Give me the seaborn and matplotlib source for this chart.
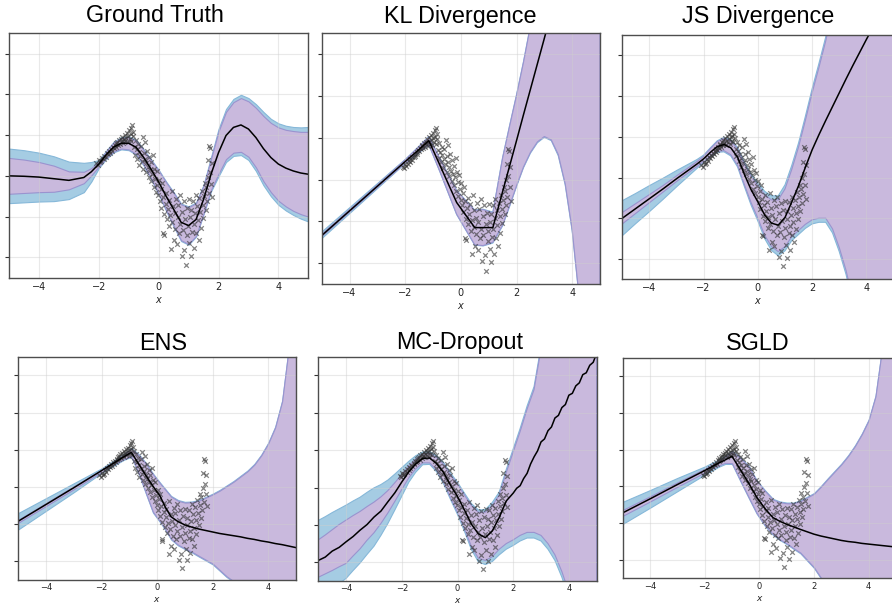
import matplotlib
matplotlib.use("Agg")
import numpy as np
import matplotlib.pyplot as plt
import seaborn as sns

# ---------------- data ----------------
xtick_vals = [-4, -2, 0, 2, 4]
xtick_labels = ["\u22124", "\u22122", "0", "2", "4"]
ytick_vals = [-2, -1, 0, 1, 2, 3]

titles = ["Ground Truth", "KL Divergence", "JS Divergence", "ENS", "MC-Dropout", "SGLD"]

# observed training points (same in every panel)
pts_x = [-2.08, -2.03, -1.99, -1.96, -1.91, -1.88, -1.83, -1.81, -1.76, -1.74, -1.69, -1.66, -1.63, -1.58,
         -1.56, -1.53, -1.49, -1.46, -1.44, -1.41, -1.38, -1.36, -1.33, -1.29, -1.27, -1.24, -1.21, -1.19,
         -1.16, -1.13, -1.11, -1.08, -1.06, -1.03, -1.01, -0.99, -0.97, -0.94, -0.93, -0.91, -0.89, -0.87, -0.85,
         -0.82, -0.79, -0.77, -0.74, -0.71, -0.69, -0.66, -0.64, -0.61, -0.59, -0.56, -0.53, -0.51, -0.49,
         -0.47, -0.45, -0.43, -0.41, -0.38, -0.36, -0.33, -0.31, -0.29, -0.26, -0.24, -0.21, -0.19, -0.17,
         -0.14, -0.11, -0.09, -0.06, -0.04, -0.01,
         0.02, 0.04, 0.07, 0.09, 0.11, 0.14, 0.16, 0.18, 0.19, 0.23, 0.25, 0.27, 0.31, 0.33, 0.36, 0.39,
         0.41, 0.43, 0.46, 0.49, 0.51, 0.53, 0.56, 0.59, 0.61, 0.63, 0.66, 0.69, 0.71, 0.73, 0.77, 0.79,
         0.81, 0.84, 0.86, 0.89, 0.91, 0.94, 0.96, 0.99,
         1.01, 1.03, 1.06, 1.08, 1.09, 1.13, 1.14, 1.17, 1.19, 1.21, 1.24, 1.26, 1.29, 1.31, 1.34, 1.36,
         1.39, 1.41, 1.44, 1.47, 1.49, 1.53, 1.54, 1.57, 1.59, 1.61, 1.64, 1.65, 1.67, 1.69, 1.71, 1.73,
         1.75, 1.77, 1.79]
pts_y = [0.31, 0.27, 0.38, 0.33, 0.36, 0.45, 0.41, 0.50, 0.47, 0.55, 0.53, 0.61, 0.57, 0.66,
         0.62, 0.71, 0.68, 0.76, 0.72, 0.80, 0.83, 0.75, 0.88, 0.79, 0.91, 0.85, 0.96, 0.81,
         0.90, 1.01, 0.86, 0.94, 1.06, 0.83, 0.99, 1.12, 0.90, 1.03, 1.18, 0.86, 1.24, 1.08, 0.97,
         0.71, 0.52, 0.88, 0.66, 0.41, 0.79, 0.58, 0.27, 0.49, 0.74, 0.36, 0.95, 0.18, 0.57,
         0.42, 0.83, 0.09, 0.31, 0.62, 0.21, -0.04, 0.46, 0.14, 0.33, -0.13, 0.05, 0.51, -0.28,
         0.18, -0.07, -0.39, 0.12, -0.22, -0.48,
         -0.09, -0.61, -0.33, -0.78, -0.18, -0.52, -1.41, -0.94, -1.44, -0.68, -0.43, -1.07, -0.82, -0.59, -1.24, -0.97,
         -1.79, -0.38, -1.13, -0.74, -1.58, -0.92, -1.31, -0.56, -1.68, -1.02, -0.71, -1.41, -0.47, -1.18, -1.96, -0.88,
         -1.33, -0.62, -1.81, -1.07, -2.18, -0.79, -1.46, -1.24,
         -0.58, -1.66, -1.02, -1.97, -0.83, -1.37, -0.61, -1.19, -1.78, -0.92, -0.47, -1.41, -0.74, -1.09, -1.58, -0.55,
         -0.88, -1.27, -0.36, -0.71, -1.03, -0.49, -0.18, -0.83, -0.28, -0.62, -0.02, 0.38, -0.41, 0.74, 0.09, 0.69,
         -0.19, 0.31, -0.52]

# Ground truth
gt_x = [-5, -4.5, -4, -3.5, -3, -2.5, -2.25, -2, -1.75, -1.5, -1.25, -1, -0.75, -0.5, -0.25, 0, 0.25, 0.5,
        0.75, 1, 1.25, 1.5, 1.75, 2, 2.25, 2.5, 2.75, 3, 3.25, 3.5, 3.75, 4, 4.25, 4.5, 4.75, 5]
gt_mean = [0.00, -0.01, -0.03, -0.07, -0.11, -0.04, 0.10, 0.29, 0.52, 0.71, 0.80, 0.80, 0.70, 0.45, 0.16, -0.15, -0.50, -0.82,
           -1.14, -1.22, -1.07, -0.58, 0.04, 0.57, 0.99, 1.19, 1.25, 1.15, 0.94, 0.67, 0.45, 0.29, 0.19, 0.12, 0.07, 0.04]
gt_purple = [0.44, 0.41, 0.37, 0.32, 0.22, 0.14, 0.09, 0.06, 0.08, 0.11, 0.13, 0.15, 0.16, 0.18, 0.22, 0.28, 0.34, 0.40,
             0.44, 0.45, 0.40, 0.34, 0.38, 0.52, 0.58, 0.62, 0.66, 0.68, 0.73, 0.80, 0.85, 0.90, 0.94, 0.98, 1.01, 1.04]
gt_blue = [0.67, 0.64, 0.60, 0.55, 0.46, 0.36, 0.24, 0.10, 0.10, 0.13, 0.15, 0.17, 0.18, 0.20, 0.24, 0.30, 0.36, 0.42,
           0.46, 0.47, 0.42, 0.36, 0.42, 0.58, 0.65, 0.70, 0.74, 0.76, 0.82, 0.90, 0.95, 1.00, 1.04, 1.08, 1.12, 1.16]

# KL divergence
kl_x = [-5, -4, -3, -2, -1.5, -1.15, -0.75, -0.15, 0.25, 0.5, 0.8, 1.15, 1.5, 1.75, 2, 2.25, 2.5, 2.75,
        3, 3.25, 3.5, 3.75, 4, 4.25, 4.5, 5]
kl_mean = [-1.34, -0.75, -0.16, 0.43, 0.72, 0.93, 0.34, -0.55, -0.92, -1.15, -1.15, -1.15, -0.29, 0.32, 0.93, 1.55, 2.16, 2.77,
           3.38, 4.00, 4.61, 5.22, 5.83, 6.45, 7.06, 8.28]
kl_purple = [0.03, 0.03, 0.03, 0.04, 0.07, 0.09, 0.15, 0.28, 0.36, 0.41, 0.43, 0.35, 0.80, 0.95, 1.08, 1.25, 1.51, 1.87,
             2.35, 3.05, 4.01, 5.32, 7.03, 9.25, 11.56, 16.5]
kl_blue = [0.08, 0.07, 0.06, 0.05, 0.08, 0.10, 0.16, 0.29, 0.37, 0.42, 0.44, 0.37, 0.82, 0.97, 1.10, 1.27, 1.53, 1.89,
           2.37, 3.07, 4.04, 5.35, 7.06, 9.28, 11.6, 16.6]

# JS divergence
js_x = gt_x
js_mean = [-1.00, -0.76, -0.52, -0.28, -0.03, 0.21, 0.33, 0.46, 0.62, 0.76, 0.81, 0.73, 0.50, 0.08, -0.30, -0.60, -0.92, -1.12,
           -1.17, -0.98, -0.60, -0.20, 0.25, 0.68, 1.05, 1.40, 1.74, 2.08, 2.42, 2.75, 3.07, 3.39, 3.70, 4.00, 4.30, 4.60]
js_purple_up = [0.14, 0.12, 0.10, 0.08, 0.07, 0.06, 0.06, 0.06, 0.09, 0.12, 0.15, 0.17, 0.20, 0.25, 0.32, 0.40, 0.50, 0.57,
                0.62, 0.70, 0.80, 0.95, 1.15, 1.40, 1.65, 1.95, 2.40, 3.00, 3.70, 4.50, 5.40, 6.40, 7.50, 8.70, 10.0, 11.4]
js_purple_dn = [0.14, 0.12, 0.10, 0.08, 0.07, 0.06, 0.06, 0.06, 0.09, 0.12, 0.15, 0.17, 0.20, 0.25, 0.32, 0.40, 0.50, 0.57,
                0.65, 0.72, 0.85, 1.10, 1.40, 1.72, 2.05, 2.40, 3.00, 3.80, 4.70, 5.75, 7.00, 8.40, 9.90, 11.5, 13.2, 15.0]
js_blue_up = [0.43, 0.37, 0.32, 0.26, 0.20, 0.14, 0.11, 0.09, 0.11, 0.14, 0.18, 0.20, 0.24, 0.30, 0.38, 0.47, 0.58, 0.67,
              0.72, 0.80, 0.90, 1.05, 1.25, 1.50, 1.75, 2.05, 2.50, 3.10, 3.80, 4.60, 5.50, 6.50, 7.60, 8.80, 10.1, 11.5]
js_blue_dn = [0.43, 0.37, 0.32, 0.26, 0.20, 0.14, 0.11, 0.09, 0.11, 0.14, 0.18, 0.20, 0.24, 0.30, 0.38, 0.47, 0.58, 0.67,
              0.75, 0.82, 0.95, 1.20, 1.50, 1.82, 2.15, 2.50, 3.10, 3.90, 4.80, 5.85, 7.10, 8.50, 10.0, 11.6, 13.3, 15.1]

# Ensemble
ens_x = [-5, -4, -3, -2, -1.5, -1.2, -0.93, -0.65, -0.4, -0.15, 0.1, 0.3, 0.5, 0.75, 1, 1.25, 1.5, 2,
         2.25, 2.5, 2.75, 3, 3.25, 3.5, 3.75, 4, 4.25, 4.5, 4.75, 5]
ens_mean = [-0.92, -0.47, -0.02, 0.44, 0.67, 0.81, 0.93, 0.60, 0.30, 0.02, -0.24, -0.55, -0.80, -0.93, -1.02, -1.08, -1.13, -1.21,
            -1.25, -1.28, -1.31, -1.34, -1.38, -1.41, -1.45, -1.48, -1.52, -1.55, -1.59, -1.63]
ens_purple_up = [0.04, 0.04, 0.04, 0.03, 0.04, 0.06, 0.10, 0.25, 0.32, 0.32, 0.34, 0.47, 0.54, 0.56, 0.60, 0.67, 0.76, 1.01,
                 1.15, 1.30, 1.45, 1.62, 1.80, 2.01, 2.30, 2.65, 3.12, 3.85, 5.39, 7.13]
ens_purple_dn = [0.04, 0.04, 0.04, 0.03, 0.04, 0.06, 0.10, 0.25, 0.47, 0.69, 0.68, 0.59, 0.59, 0.62, 0.63, 0.66, 0.72, 0.85,
                 0.98, 1.12, 1.22, 1.31, 1.42, 1.54, 1.68, 1.82, 1.98, 2.15, 2.31, 2.47]
ens_blue_up = [0.22, 0.17, 0.12, 0.06, 0.07, 0.08, 0.12, 0.27, 0.34, 0.34, 0.36, 0.49, 0.56, 0.58, 0.62, 0.69, 0.78, 1.03,
               1.17, 1.32, 1.47, 1.64, 1.82, 2.03, 2.32, 2.67, 3.14, 3.87, 5.41, 7.15]
ens_blue_dn = [0.22, 0.17, 0.12, 0.06, 0.07, 0.08, 0.12, 0.27, 0.49, 0.71, 0.70, 0.61, 0.61, 0.64, 0.65, 0.68, 0.74, 0.87,
               1.00, 1.14, 1.24, 1.33, 1.44, 1.56, 1.70, 1.84, 2.00, 2.17, 2.33, 2.49]

# MC-Dropout (bands)
mc_x = [-5, -4.75, -4.5, -4.25, -4, -3.75, -3.5, -3.25, -3, -2.75, -2.5, -2.25, -2, -1.75, -1.5, -1.25, -1,
        -0.75, -0.5, -0.25, 0, 0.25, 0.5, 0.75, 1, 1.25, 1.5, 1.75, 2, 2.25, 2.5, 2.75, 3, 3.25, 3.5, 3.75,
        4, 4.25, 4.5, 4.75, 5]
mc_mean = [-1.95, -1.83, -1.70, -1.57, -1.45, -1.29, -1.14, -0.96, -0.79, -0.60, -0.38, -0.12, 0.15, 0.42, 0.63, 0.78, 0.79,
           0.64, 0.40, 0.06, -0.24, -0.60, -0.98, -1.24, -1.34, -1.16, -0.80, -0.36, -0.15, 0.05, 0.38, 0.82, 1.22, 1.47,
           1.88, 2.10, 2.45, 2.66, 3.02, 3.22, 3.58]
mc_purple_up = [0.55, 0.56, 0.57, 0.58, 0.58, 0.54, 0.50, 0.45, 0.40, 0.35, 0.30, 0.25, 0.20, 0.16, 0.13, 0.12, 0.13,
                0.16, 0.22, 0.28, 0.33, 0.40, 0.50, 0.58, 0.68, 0.68, 0.60, 0.76, 1.10, 1.45, 1.72, 1.80, 2.48, 3.00,
                3.68, 4.35, 5.25, 6.00, 6.90, 7.70, 8.70]
mc_purple_dn = [0.45, 0.48, 0.52, 0.55, 0.58, 0.54, 0.50, 0.45, 0.42, 0.36, 0.30, 0.25, 0.20, 0.16, 0.13, 0.12, 0.13,
                0.17, 0.25, 0.33, 0.42, 0.50, 0.60, 0.65, 0.61, 0.69, 0.85, 1.14, 1.25, 1.33, 1.58, 2.02, 2.50, 2.97,
                3.68, 4.35, 5.25, 6.00, 6.90, 7.70, 8.70]
mc_blue_up = [1.07, 1.05, 1.03, 1.00, 0.98, 0.93, 0.88, 0.83, 0.78, 0.68, 0.58, 0.48, 0.38, 0.28, 0.22, 0.17, 0.17,
              0.21, 0.27, 0.33, 0.38, 0.45, 0.55, 0.64, 0.75, 0.76, 0.68, 0.84, 1.18, 1.53, 1.80, 1.88, 2.56, 3.08,
              3.76, 4.43, 5.33, 6.08, 6.98, 7.78, 8.78]
mc_blue_dn = [1.07, 1.05, 1.03, 1.00, 0.98, 0.93, 0.88, 0.83, 0.78, 0.68, 0.58, 0.48, 0.38, 0.28, 0.22, 0.17, 0.17,
              0.22, 0.30, 0.38, 0.48, 0.57, 0.68, 0.75, 0.72, 0.82, 1.00, 1.29, 1.40, 1.48, 1.73, 2.17, 2.65, 3.12,
              3.83, 4.50, 5.40, 6.15, 7.05, 7.85, 8.85]
# MC-Dropout predictive mean (finer, jagged)
mc_line_x = [-5, -4.75, -4.5, -4.25, -4, -3.75, -3.5, -3.25, -3, -2.75, -2.5, -2.25, -2, -1.75, -1.5, -1.25, -1,
             -0.75, -0.5, -0.25, 0, 0.25, 0.5, 0.75, 1, 1.25, 1.5, 1.75, 2, 2.125, 2.25, 2.375, 2.5, 2.625, 2.75,
             2.875, 3, 3.125, 3.25, 3.375, 3.5, 3.625, 3.75, 3.875, 4, 4.125, 4.25, 4.375, 4.5, 4.625, 4.75, 4.875, 5]
mc_line_y = [-1.95, -1.86, -1.70, -1.60, -1.45, -1.31, -1.14, -0.99, -0.79, -0.63, -0.38, -0.14, 0.15, 0.42, 0.63, 0.78, 0.79,
             0.64, 0.40, 0.06, -0.24, -0.60, -0.98, -1.24, -1.34, -1.16, -0.80, -0.36, -0.15, -0.02, 0.05, 0.24, 0.38,
             0.63, 0.82, 0.98, 1.22, 1.30, 1.52, 1.62, 1.86, 1.93, 2.14, 2.22, 2.47, 2.52, 2.72, 2.80, 3.02, 3.07, 3.27,
             3.35, 3.60]

# SGLD
sgld_x = [-5, -4, -3, -2, -1.5, -1.25, -1.0, -0.7, -0.4, -0.1, 0.2, 0.5, 0.75, 1, 1.25, 1.5, 2, 2.25, 2.5,
          2.75, 3, 3.25, 3.5, 3.75, 4, 4.25, 4.5, 5]
sgld_mean = [-0.72, -0.34, 0.05, 0.43, 0.63, 0.72, 0.82, 0.46, 0.10, -0.29, -0.60, -0.85, -0.95, -1.03, -1.10, -1.17, -1.30, -1.35, -1.39,
             -1.43, -1.47, -1.50, -1.52, -1.55, -1.57, -1.59, -1.61, -1.65]
sgld_purple_up = [0.08, 0.07, 0.06, 0.05, 0.06, 0.08, 0.13, 0.31, 0.45, 0.44, 0.48, 0.49, 0.52, 0.57, 0.64, 0.77, 1.10, 1.34, 1.59,
                  1.83, 2.07, 2.33, 2.62, 2.97, 3.37, 4.04, 5.41, 8.65]
sgld_purple_dn = [0.08, 0.07, 0.06, 0.05, 0.06, 0.08, 0.19, 0.29, 0.38, 0.43, 0.45, 0.45, 0.49, 0.52, 0.58, 0.63, 0.90, 1.13, 1.36,
                  1.60, 1.83, 2.10, 2.38, 2.64, 2.90, 3.20, 3.50, 4.10]
sgld_blue_up = [0.30, 0.24, 0.18, 0.11, 0.10, 0.11, 0.15, 0.33, 0.47, 0.46, 0.50, 0.51, 0.54, 0.59, 0.66, 0.79, 1.12, 1.36, 1.61,
                1.85, 2.09, 2.35, 2.64, 2.99, 3.39, 4.06, 5.43, 8.67]
sgld_blue_dn = [0.30, 0.24, 0.18, 0.11, 0.10, 0.11, 0.21, 0.31, 0.40, 0.45, 0.47, 0.47, 0.51, 0.54, 0.60, 0.65, 0.92, 1.15, 1.38,
                1.62, 1.85, 2.12, 2.40, 2.66, 2.92, 3.22, 3.52, 4.12]

# ---------------- style ----------------
sns.set_theme(style="whitegrid")
plt.rcParams["font.family"] = ["DejaVu Sans"]
plt.rcParams["axes.unicode_minus"] = True

W, H = 892, 604
fig = plt.figure(figsize=(W / 100, H / 100), dpi=100)
fig.patch.set_facecolor("white")

BLUE = "#a5cce3"
BLUE_EDGE = "#86b8d9"
PURPLE = "#c9b9dd"
PURPLE_EDGE = "#9a93cf"

# (band x, band mean, line x, line y, purple up/down, blue up/down, axes box px (l, r, t, b), title pos, row)
panels = [
    (gt_x, gt_mean, gt_x, gt_mean, gt_purple, gt_purple, gt_blue, gt_blue, (9, 308.3, 33.3, 277.7), (155, 22.5), 0),
    (kl_x, kl_mean, kl_x, kl_mean, kl_purple, kl_purple, kl_blue, kl_blue, (321.7, 600, 33.3, 284), (460, 22.5), 0),
    (js_x, js_mean, js_x, js_mean, js_purple_up, js_purple_dn, js_blue_up, js_blue_dn, (622.3, 893.5, 35, 279.3), (758, 22.5), 0),
    (ens_x, ens_mean, ens_x, ens_mean, ens_purple_up, ens_purple_dn, ens_blue_up, ens_blue_dn, (18.3, 296, 356.7, 580), (163, 349.5), 1),
    (mc_x, mc_mean, mc_line_x, mc_line_y, mc_purple_up, mc_purple_dn, mc_blue_up, mc_blue_dn, (318.3, 596.7, 356.7, 581), (460, 349.5), 1),
    (sgld_x, sgld_mean, sgld_x, sgld_mean, sgld_purple_up, sgld_purple_dn, sgld_blue_up, sgld_blue_dn, (622.7, 896, 357.7, 578.3), (758, 349.5), 1),
]

for title, (xs, mean, lx, ly, pu, pd_, bu, bd, box, tpos, row) in zip(titles, panels):
    l, r, t, b = box
    ax = fig.add_axes([l / W, 1 - b / H, (r - l) / W, (b - t) / H])
    ax.set_facecolor("white")
    x = np.array(xs, dtype=float)
    m = np.array(mean, dtype=float)
    ax.fill_between(x, m - np.array(bd), m + np.array(bu), facecolor=BLUE, edgecolor=BLUE_EDGE,
                    linewidth=0.8, zorder=1)
    ax.fill_between(x, m - np.array(pd_), m + np.array(pu), facecolor=PURPLE, edgecolor=PURPLE_EDGE,
                    linewidth=0.8, zorder=1.5)
    sns.scatterplot(x=pts_x, y=pts_y, marker="x", color="#333333", s=11, linewidth=0.9,
                    alpha=0.6, ax=ax, zorder=3, legend=False)
    sns.lineplot(x=np.array(lx, dtype=float), y=np.array(ly, dtype=float), color="black",
                 linewidth=1.1, ax=ax, zorder=4, estimator=None, sort=False, legend=False)

    ax.set_xlim(-5, 5)
    ax.set_ylim(-2.5, 3.5)
    ax.set_xticks(xtick_vals)
    fs = 7 if row == 0 else 6
    ax.set_xticklabels(xtick_labels, fontsize=fs, color="#222222")
    ax.set_yticks(ytick_vals)
    ax.set_yticklabels([])
    ax.tick_params(axis="x", length=0, pad=3 if row == 0 else 2.5)
    ax.tick_params(axis="y", left=True, length=3, width=0.8, color="#333333")
    ax.set_axisbelow(False)
    ax.grid(True, color="#cfcfcf", linewidth=0.8, alpha=0.45, zorder=2)
    for sp in ax.spines.values():
        sp.set_color("#4d4d4d")
        sp.set_linewidth(1.0)
        sp.set_zorder(5)
    ax.set_xlabel("$x$", fontsize=7 if row == 0 else 6.5, labelpad=2, color="#222222")
    ax.set_ylabel("")

    fig.text(tpos[0] / W, 1 - tpos[1] / H, title, ha="center", va="baseline",
             fontsize=16.8, family=["Liberation Sans", "DejaVu Sans"], color="black")

fig.savefig("out.png", dpi=100, facecolor="white")
